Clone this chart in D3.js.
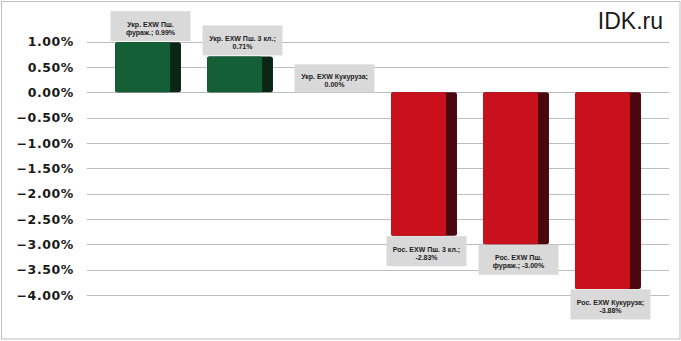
<!DOCTYPE html>
<html>
<head>
<meta charset="utf-8">
<script src="https://cdn.jsdelivr.net/npm/d3@7"></script>
<style>
html,body{margin:0;padding:0;background:#fff;}
svg{display:block;}
</style>
</head>
<body>
<svg id="chart" width="681" height="341"></svg>
<script>
const categories = ["Укр. EXW Пш. фураж.", "Укр. EXW Пш. 3 кл.", "Укр. EXW Кукуруза", "Рос. EXW Пш. 3 кл.", "Рос. EXW Пш. фураж.", "Рос. EXW Кукуруза"];
const values = [0.99, 0.71, 0.00, -2.83, -3.00, -3.88];
const labelLines = [
  ["Укр. EXW Пш.", "фураж.; 0.99%"],
  ["Укр. EXW Пш. 3 кл.;", "0.71%"],
  ["Укр. EXW Кукуруза;", "0.00%"],
  ["Рос. EXW Пш. 3 кл.;", "-2.83%"],
  ["Рос. EXW Пш.", "фураж.; -3.00%"],
  ["Рос. EXW Кукуруза;", "-3.88%"]
];
const tickValues = [1, 0.5, 0, -0.5, -1, -1.5, -2, -2.5, -3, -3.5, -4];
const sourceText = "IDK.ru";

const svg = d3.select("#chart");

// outer frame
svg.append("rect").attr("x", 1.5).attr("y", 1.5).attr("width", 678.5).attr("height", 337.5)
  .attr("fill", "#fff").attr("stroke", "#c0c0c0").attr("stroke-width", 1);

const y = d3.scaleLinear().domain([-4, 1]).range([295, 41.7]);
const x = d3.scaleBand().domain(categories).range([102, 654]).paddingInner(0.283).paddingOuter(0.1415);

// gridlines
svg.append("g").selectAll("line").data(tickValues).join("line")
  .attr("x1", 87).attr("x2", 669)
  .attr("y1", d => Math.round(y(d)) + 0.5).attr("y2", d => Math.round(y(d)) + 0.5)
  .attr("stroke", "#bdbdbd").attr("stroke-width", 1);

// y axis labels
const axis = d3.axisLeft(y).tickValues(tickValues).tickSize(0).tickPadding(0)
  .tickFormat(d => d3.format(".2f")(d) + "%");
const ag = svg.append("g").attr("transform", "translate(74,0)").call(axis);
ag.select(".domain").remove();
ag.selectAll("text").attr("font-family", "DejaVu Sans, Verdana, sans-serif")
  .attr("font-weight", "bold").attr("font-size", "12.5px").attr("fill", "#1a1a1a")
  .attr("letter-spacing", "0.6px");

// bars
const data = categories.map((c, i) => ({c, v: values[i], lines: labelLines[i], i}));
const bw = x.bandwidth();
const frontW = bw * 0.835;
const bars = svg.append("g");
data.forEach(d => {
  if (d.v === 0) return;
  const y0 = y(0), y1 = y(d.v);
  const top = Math.min(y0, y1), h = Math.abs(y1 - y0);
  const pos = d.v > 0;
  const front = pos ? "#145f35" : "#c8111d";
  const side = pos ? "#0a2716" : "#4a080e";
  bars.append("rect").attr("x", x(d.c)).attr("y", top).attr("width", bw).attr("height", h)
    .attr("rx", 2.5).attr("fill", side);
  bars.append("rect").attr("x", x(d.c)).attr("y", top).attr("width", frontW).attr("height", h)
    .attr("rx", 2).attr("fill", front);
});

// data labels
const lg = svg.append("g");
data.forEach(d => {
  const cx = x(d.c) + bw / 2 + 2.5;
  const bh = d.v === 0 ? 28 : 30;
  const bwid = 80;
  let by;
  if (d.v > 0) by = y(d.v) - 1 - bh;
  else if (d.v < 0) by = y(d.v) + 0.5;
  else by = y(0) - bh;
  lg.append("rect").attr("x", cx - bwid / 2).attr("y", by).attr("width", bwid).attr("height", bh)
    .attr("fill", "#d9d9d9");
  const t = lg.append("text").attr("text-anchor", "middle")
    .attr("font-family", "Liberation Sans, Arial, sans-serif").attr("font-weight", "bold")
    .attr("font-size", "7px").attr("fill", "#222");
  const midY = by + bh / 2;
  d.lines.forEach((ln, k) => {
    t.append("tspan").attr("x", cx).attr("y", midY + 0.6 + k * 7.8).text(ln);
  });
});

// source text
svg.append("text").attr("x", 663).attr("y", 28.5).attr("text-anchor", "end")
  .attr("font-family", "Liberation Sans, Arial, sans-serif").attr("font-size", "23px")
  .attr("fill", "#1a1a1a").text(sourceText);
</script>
</body>
</html>
